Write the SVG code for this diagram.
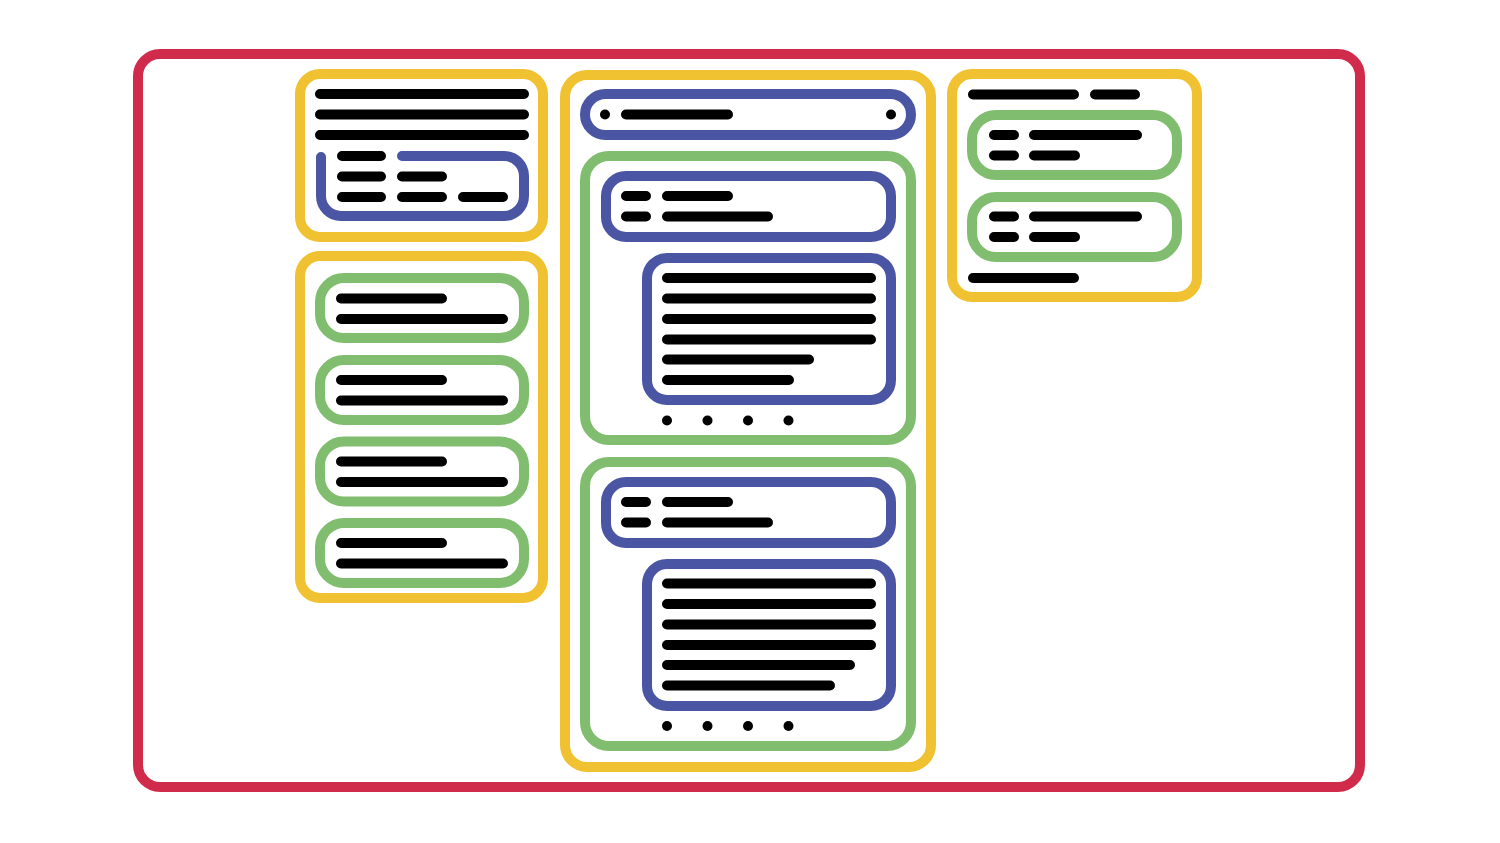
<svg xmlns="http://www.w3.org/2000/svg" width="1500" height="843" viewBox="0 0 1500 843">
<style>
.red{fill:none;stroke:#D12B4B;stroke-width:10}
.yel{fill:none;stroke:#F0C131;stroke-width:10}
.grn{fill:none;stroke:#80BD6F;stroke-width:10}
.blu{fill:none;stroke:#4A56A3;stroke-width:10;stroke-linecap:round}
.ln{stroke:#000;stroke-width:10;stroke-linecap:round;fill:none}
.dot{fill:#000}
</style>
<rect width="1500" height="843" fill="#fff"/>
<g id="page"><rect class="red" x="138" y="54" width="1222" height="733" rx="22"/></g>

<g id="left-top">
<rect class="yel" x="300" y="74" width="243" height="163" rx="20"/>
<path class="ln" d="M320 94H524M320 114.5H524M320 135H524"/>
<path class="blu" d="M321 157V196a20 20 0 0 0 20 20H504a20 20 0 0 0 20-20V176a20 20 0 0 0-20-20H402"/>
<path class="ln" d="M342 156H381M342 176.5H381M402 176.5H442M342 197H381M402 197H442M463 197H503"/>
</g>

<g id="left-list">
<rect class="yel" x="300" y="256" width="243" height="342" rx="20"/>
<g id="item1"><rect class="grn" x="320" y="278" width="204" height="60" rx="24"/><path class="ln" d="M341 298.5H442M341 319H503"/></g>
<g id="item2"><rect class="grn" x="320" y="360" width="204" height="60" rx="24"/><path class="ln" d="M341 380H442M341 400.5H503"/></g>
<g id="item3"><rect class="grn" x="320" y="441.5" width="204" height="60" rx="24"/><path class="ln" d="M341 461.5H442M341 482H503"/></g>
<g id="item4"><rect class="grn" x="320" y="523" width="204" height="60" rx="24"/><path class="ln" d="M341 543H442M341 563.5H503"/></g>
</g>

<g id="feed">
<rect class="yel" x="565" y="75" width="366" height="692" rx="22"/>
<g id="search">
<rect class="blu" x="585" y="94" width="326" height="41" rx="20.5"/>
<circle class="dot" cx="605" cy="114.5" r="5"/>
<circle class="dot" cx="891" cy="114.5" r="5"/>
<path class="ln" d="M626 114.5H728"/>
</g>
<g id="post1">
<rect class="grn" x="585" y="156" width="326" height="284" rx="24"/>
<rect class="blu" x="606" y="176" width="285" height="61" rx="20"/>
<path class="ln" d="M626 196H646M667 196H728M626 216.5H646M667 216.5H768"/>
<rect class="blu" x="647" y="258" width="244" height="142" rx="20"/>
<path class="ln" d="M667 278H871M667 298.5H871M667 319H871M667 339.5H871M667 359.5H809M667 380H789"/>
<circle class="dot" cx="667" cy="420.5" r="5"/>
<circle class="dot" cx="707.5" cy="420.5" r="5"/>
<circle class="dot" cx="748" cy="420.5" r="5"/>
<circle class="dot" cx="788.5" cy="420.5" r="5"/>
</g>
<g id="post2">
<rect class="grn" x="585" y="462" width="326" height="284" rx="24"/>
<rect class="blu" x="606" y="482" width="285" height="61" rx="20"/>
<path class="ln" d="M626 502H646M667 502H728M626 522.5H646M667 522.5H768"/>
<rect class="blu" x="647" y="564" width="244" height="142" rx="20"/>
<path class="ln" d="M667 583.5H871M667 604H871M667 624.5H871M667 645H871M667 665H850M667 685.5H830"/>
<circle class="dot" cx="667" cy="726" r="5"/>
<circle class="dot" cx="707.5" cy="726" r="5"/>
<circle class="dot" cx="748" cy="726" r="5"/>
<circle class="dot" cx="788.5" cy="726" r="5"/>
</g>
</g>

<g id="right-panel">
<rect class="yel" x="952" y="74" width="245" height="223" rx="20"/>
<path class="ln" d="M973 94.5H1074M1095 94.5H1135"/>
<g id="entry1"><rect class="grn" x="972" y="115" width="205" height="60" rx="24"/><path class="ln" d="M994 135H1014M1034 135H1137M994 155.5H1014M1034 155.5H1075"/></g>
<g id="entry2"><rect class="grn" x="972" y="197" width="205" height="60" rx="24"/><path class="ln" d="M994 216.5H1014M1034 216.5H1137M994 237H1014M1034 237H1075"/></g>
<path class="ln" d="M973 278H1074"/>
</g>
</svg>
